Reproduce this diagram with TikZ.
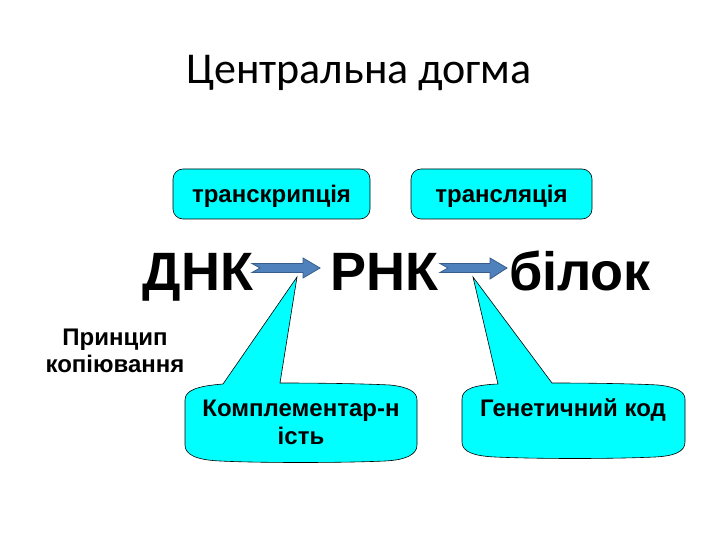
\documentclass[tikz,border=0pt]{standalone}
\usepackage{fontspec}
\setmainfont{Liberation Sans}
\newfontfamily\titlefont{Carlito}
\begin{document}
\begin{tikzpicture}[x=1pt,y=-1pt,
  tbox/.style={draw=black, line width=0.6pt, fill=cyan, rounded corners=10pt},
  btext/.style={font=\bfseries\fontsize{24}{28}\selectfont, inner sep=0pt, anchor=base},
  big/.style={font=\bfseries\fontsize{54}{60}\selectfont, inner sep=0pt, anchor=base},
  barrow/.style={draw=arrowline, line width=0.8pt, fill=arrowfill},
  callout/.style={draw=black, line width=0.6pt, fill=cyan}]
\definecolor{cyan}{HTML}{00FFFF}
\definecolor{arrowfill}{HTML}{4F81BD}
\definecolor{arrowline}{HTML}{385D8A}
\useasboundingbox (0,0) rectangle (720,540);
\fill[white] (0,0) rectangle (720,540);
\node[font=\titlefont\fontsize{44}{52}\selectfont, anchor=base] (title) at (359,84) {Центральна догма};
% top boxes
\draw[tbox] (173,169) rectangle (370,219);
\node[btext] (t1) at (271.5,203) {транскрипція};
\draw[tbox] (411,169) rectangle (592,219);
\node[btext] (t2) at (501.5,203) {трансляція};
% main words
\node[big] (dna) at (198,290) {ДНК};
\node[big] (rna) at (384,290) {РНК};
\node[big] (prot) at (580,290) {білок};
% block arrows
\draw[barrow] (252,263.5) -- (303,263.5) -- (303,258) -- (320,268) -- (303,278) -- (303,272.5) -- (252,272.5) -- (260,268) -- cycle;
\draw[barrow] (440,263.5) -- (490,263.5) -- (490,258) -- (507,268) -- (490,279) -- (490,272.5) -- (440,272.5) -- (448,268) -- cycle;
% principle
\node[btext] (princ1) at (115,345) {Принцип};
\node[btext] (princ2) at (115,372) {копіювання};
% callout 1
\coordinate (tip1) at (297,277);
\draw[callout] (185,445) -- (185,400) .. controls (185,390) and (198,386) .. (223,384) -- (tip1) -- (280,383) .. controls (330,383) and (370,384) .. (390,385) .. controls (409,387) and (417,392) .. (417,400) -- (417,445) .. controls (417,455) and (405,460) .. (385,461) .. controls (340,463) and (260,463) .. (220,461) .. controls (197,460) and (185,455) .. (185,445) -- cycle;
\node[btext] (c1a) at (301,416) {Комплементар-н};
\node[btext] (c1b) at (301,444) {ість};
% callout 2
\coordinate (tip2) at (473,277);
\draw[callout] (462,442) -- (462,399) .. controls (462,389) and (474,385) .. (498,384) -- (tip2) -- (552,383) .. controls (600,383) and (640,384) .. (658,385) .. controls (677,387) and (685,392) .. (685,399) -- (685,442) .. controls (685,452) and (674,456) .. (655,457) .. controls (610,459) and (540,459) .. (495,457) .. controls (474,456) and (462,452) .. (462,442) -- cycle;
\node[btext] (c2) at (573,416) {Генетичний код};
\end{tikzpicture}
\end{document}
